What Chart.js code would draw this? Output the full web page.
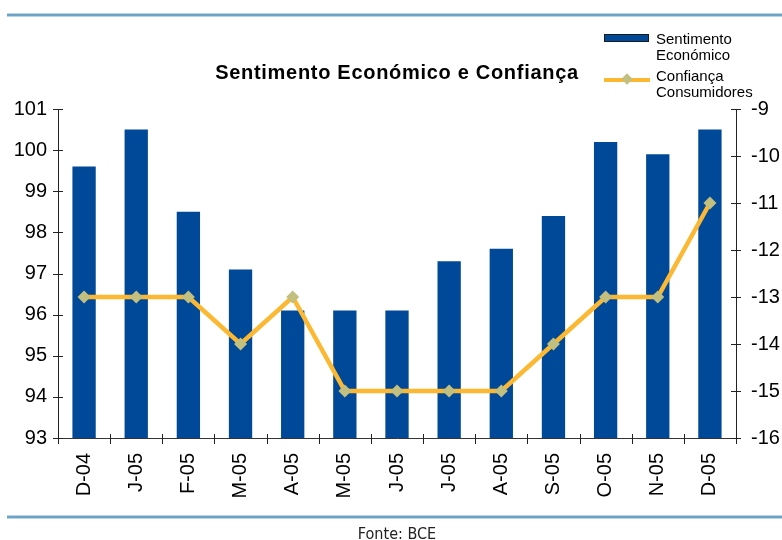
<!DOCTYPE html>
<html>
<head>
<meta charset="utf-8">
<script src="https://cdn.jsdelivr.net/npm/chart.js@4.4.1/dist/chart.umd.min.js"></script>
<style>
  html, body { margin: 0; padding: 0; background: #fff; }
  #wrap { position: relative; width: 782px; height: 540px; overflow: hidden; font-family: "Liberation Sans", Arial, sans-serif; }
  #chart { position: absolute; left: 0; top: 0; }
  .rule { position: absolute; left: 7px; right: 0; height: 4px; background: #6ea3c8; border-top: 1px solid #b9d3e6; border-bottom: 1px solid #b9d3e6; box-sizing: border-box; }
  #title { position: absolute; left: 97px; width: 600px; top: 62px; text-align: center; font-weight: bold; font-size: 20px; line-height: 20px; color: #000; letter-spacing: 0.7px; }
  .lg-text { position: absolute; left: 656px; font-size: 15px; line-height: 16px; color: #000; }
  #lg-bar { position: absolute; left: 604px; top: 34px; width: 45px; height: 8px; background: #004898; border: 1px solid #1a1a1a; box-sizing: border-box; }
  #lg-line { position: absolute; left: 604px; top: 78px; width: 46px; height: 4px; background: #fbb830; }
  #lg-dot { position: absolute; left: 623px; top: 75px; width: 8px; height: 8px; background: #c2bf7f; transform: rotate(45deg); }
  #fonte { position: absolute; left: 197px; width: 400px; top: 526px; text-align: center; font-family: "DejaVu Sans Condensed", "DejaVu Sans", sans-serif; font-stretch: condensed; font-size: 16px; line-height: 16px; color: #222; }
</style>
</head>
<body>
<div id="wrap">
  <canvas id="chart" width="782" height="540"></canvas>
  <div class="rule" style="top:13px"></div>
  <div class="rule" style="top:515px"></div>
  <div id="title">Sentimento Económico e Confiança</div>
  <div id="lg-bar"></div>
  <div class="lg-text" style="top:31px">Sentimento<br>Económico</div>
  <div id="lg-line"></div>
  <div id="lg-dot"></div>
  <div class="lg-text" style="top:68px">Confiança<br>Consumidores</div>
  <div id="fonte">Fonte: BCE</div>
</div>
<script>
// Meses
const categories = ['D-04', 'J-05', 'F-05', 'M-05', 'A-05', 'M-05', 'J-05', 'J-05', 'A-05', 'S-05', 'O-05', 'N-05', 'D-05'];

// Séries
const sentimento = [99.6, 100.5, 98.5, 97.1, 96.1, 96.1, 96.1, 97.3, 97.6, 98.4, 100.2, 99.9, 100.5];
const confianca = [-13, -13, -13, -14, -13, -15, -15, -15, -15, -14, -13, -13, -11];

// Limites dos eixos
const leftAxis = { min: 93, max: 101 };
const rightAxis = { min: -16, max: -9 };

Chart.defaults.font.family = '"Liberation Sans", Arial, sans-serif';
Chart.defaults.color = '#000';

// traits des graduations qui croisent les axes
const crossTicks = {
    id: 'crossTicks',
    afterDraw(chart) {
        const { ctx, chartArea: a, scales } = chart;
        ctx.save();
        ctx.strokeStyle = '#222';
        ctx.lineWidth = 1;
        ctx.beginPath();
        for (const t of scales.y.ticks) {
            const py = Math.round(scales.y.getPixelForValue(t.value)) + 0.5;
            ctx.moveTo(a.left - 5, py);
            ctx.lineTo(a.left + 5, py);
        }
        for (const t of scales.y1.ticks) {
            const py = Math.round(scales.y1.getPixelForValue(t.value)) + 0.5;
            ctx.moveTo(a.right - 5, py);
            ctx.lineTo(a.right + 5, py);
        }
        const half = (scales.x.getPixelForValue(1) - scales.x.getPixelForValue(0)) / 2;
        for (let i = 0; i <= categories.length; i++) {
            const px = Math.round(scales.x.getPixelForValue(i) - half) + 0.5;
            ctx.moveTo(px, a.bottom - 4);
            ctx.lineTo(px, a.bottom + 6);
        }
        ctx.stroke();
        ctx.restore();
    }
};

new Chart(document.getElementById('chart'), {
    type: 'bar',
    data: {
        labels: categories,
        datasets: [
            {
                type: 'line',
                label: 'Confiança Consumidores',
                data: confianca,
                yAxisID: 'y1',
                borderColor: '#fbb830',
                borderWidth: 4.5,
                pointStyle: 'rectRot',
                pointRadius: 6.5,
                pointBackgroundColor: '#c2bf7f',
                pointBorderColor: '#c2bf7f',
                pointBorderWidth: 0,
                tension: 0,
                order: 0
            },
            {
                label: 'Sentimento Económico',
                data: sentimento,
                yAxisID: 'y',
                backgroundColor: '#004898',
                categoryPercentage: 1,
                barPercentage: 0.447,
                order: 1
            }
        ]
    },
    options: {
        responsive: false,
        animation: false,
        layout: { padding: { top: 109, left: 0, right: 0, bottom: 32 } },
        plugins: {
            legend: { display: false },
            title: { display: false },
            tooltip: { enabled: false }
        },
        scales: {
            x: {
                offset: true,
                afterFit: s => { s.height = 70; },
                grid: { display: true, drawOnChartArea: false, color: 'rgba(0,0,0,0)', tickLength: 5 },
                border: { color: '#333' },
                ticks: { font: { size: 20 }, color: '#000', maxRotation: 90, minRotation: 90, padding: 10, autoSkip: false }
            },
            y: {
                position: 'left',
                min: leftAxis.min,
                max: leftAxis.max,
                afterFit: s => { s.width = 58; },
                grid: { display: true, drawOnChartArea: false, color: 'rgba(0,0,0,0)', tickLength: 5 },
                border: { color: '#222' },
                ticks: { stepSize: 1, font: { size: 20 }, color: '#000', padding: 6 }
            },
            y1: {
                position: 'right',
                min: rightAxis.min,
                max: rightAxis.max,
                afterFit: s => { s.width = 46; },
                grid: { display: true, drawOnChartArea: false, color: 'rgba(0,0,0,0)', tickLength: 5 },
                border: { color: '#222' },
                ticks: { stepSize: 1, font: { size: 20 }, color: '#000', padding: 10 }
            }
        }
    },
    plugins: [crossTicks]
});
</script>
</body>
</html>
